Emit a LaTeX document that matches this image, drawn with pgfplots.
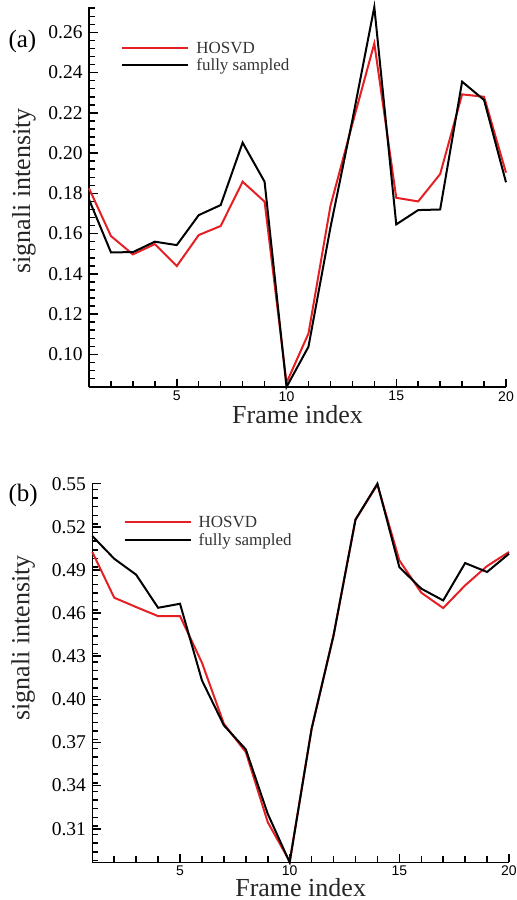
\documentclass[border=0pt]{standalone}
\usepackage{fontspec}
\setmainfont{Liberation Serif}
\newfontfamily\sansfont{Liberation Sans}
\usepackage{pgfplots}
\usepackage{pgfplotstable}
\pgfplotsset{compat=1.18}
\definecolor{hosvdred}{RGB}{228,32,36}

% frame, HOSVD, fully sampled
\pgfplotstableread{
x hosvd full
1  0.1825 0.1770
2  0.1588 0.1507
3  0.1497 0.1508
4  0.1548 0.1560
5  0.1439 0.1543
6  0.1593 0.1692
7  0.1638 0.1742
8  0.1858 0.2052
9  0.1759 0.1858
10 0.0859 0.0838
11 0.1104 0.1038
12 0.1737 0.1630
13 0.2145 0.2164
14 0.2545 0.2726
15 0.1778 0.1646
16 0.1760 0.1717
17 0.1896 0.1720
18 0.2292 0.2355
19 0.2280 0.2264
20 0.1903 0.1855
}\dataA

\pgfplotstableread{
x hosvd full
1  0.5025 0.5136
2  0.4707 0.4978
3  0.4642 0.4867
4  0.4579 0.4637
5  0.4579 0.4665
6  0.4255 0.4132
7  0.3830 0.3819
8  0.3633 0.3652
9  0.3146 0.3204
10 0.2873 0.2866
11 0.3796 0.3796
12 0.4445 0.4445
13 0.5250 0.5250
14 0.5493 0.5500
15 0.4967 0.4920
16 0.4742 0.4770
17 0.4635 0.4688
18 0.4793 0.4948
19 0.4927 0.4886
20 0.5025 0.5013
}\dataB

\pgfplotsset{
  panel/.style={
    scale only axis,
    axis lines=left,
    axis line style={-, line width=0.75pt},
    tick align=inside,
    major tick length=4.25pt,
    minor tick length=3pt,
    tick style={black, line width=0.75pt},
    xmin=1, xmax=20,
    xtick={5,10,15,20},
    minor xtick={1,...,20},
    xticklabel style={font=\sansfont\fontsize{7}{7}\selectfont, anchor=center,
      inner sep=0pt, yshift=-4.6pt},
    yticklabel style={font=\fontsize{9.75}{10}\selectfont, inner sep=0pt, xshift=-3pt},
    /pgf/number format/assume math mode=true,
    y tick label style={/pgf/number format/.cd, fixed, fixed zerofill, precision=2},
    xlabel={Frame index},
    ylabel={signali intensity},
    label style={font=\fontsize{13}{13}\selectfont, text=black!85, inner sep=0pt},
    clip=false,
    legend cell align=left,
    legend style={draw=none, fill=none, inner sep=0pt, anchor=west,
      font=\fontsize{8.5}{8.5}\selectfont, text=black!80,
      nodes={inner xsep=3.5pt, inner ysep=0pt, text height=7.1pt, text depth=1.55pt}},
    legend image code/.code={\draw[#1] (0pt,0pt) -- (33pt,0pt);},
    every axis plot/.append style={line width=1pt},
  },
}

\begin{document}
\begin{tikzpicture}
\useasboundingbox (0pt,-450pt) rectangle (258pt,0pt);

% (a)
\begin{axis}[panel,
  at={(44.5pt,-193.5pt)}, anchor=south west,
  width=208.5pt, height=190pt,
  ymin=0.0838, ymax=0.2726,
  ytick={0.10,0.12,...,0.26},
  minor ytick={0.084,0.088,...,0.272},
  xlabel style={at={(axis description cs:0.5,0)}, anchor=center, yshift=-14pt},
  ylabel style={at={(axis description cs:-0.156,0.516)}, anchor=center},
  legend style={at={(axis description cs:0.0767,0.870)}},
]
\addplot[hosvdred] table[x=x, y=hosvd] {\dataA};
\addplot[black] table[x=x, y=full] {\dataA};
\legend{HOSVD, fully sampled}
\node[anchor=west, font=\fontsize{12.5}{12.5}\selectfont, inner sep=0pt]
  at (axis description cs:-0.194,0.908) {(a)};
\end{axis}

% (b)
\begin{axis}[panel,
  at={(46.15pt,-431.2pt)}, anchor=south west,
  width=208.35pt, height=189.35pt,
  ymin=0.2866, ymax=0.55,
  ytick={0.31,0.34,...,0.55},
  minor ytick={0.288,0.294,...,0.55},
  xticklabel style={yshift=0.4pt},
  xlabel style={at={(axis description cs:0.5,0)}, anchor=center, yshift=-12.8pt},
  ylabel style={at={(axis description cs:-0.166,0.593)}, anchor=center},
  legend style={at={(axis description cs:0.0744,0.875)}},
]
\addplot[hosvdred] table[x=x, y=hosvd] {\dataB};
\addplot[black] table[x=x, y=full] {\dataB};
\legend{HOSVD, fully sampled}
\node[anchor=west, font=\fontsize{12.5}{12.5}\selectfont, inner sep=0pt]
  at (axis description cs:-0.202,0.969) {(b)};
\end{axis}
\end{tikzpicture}
\end{document}
